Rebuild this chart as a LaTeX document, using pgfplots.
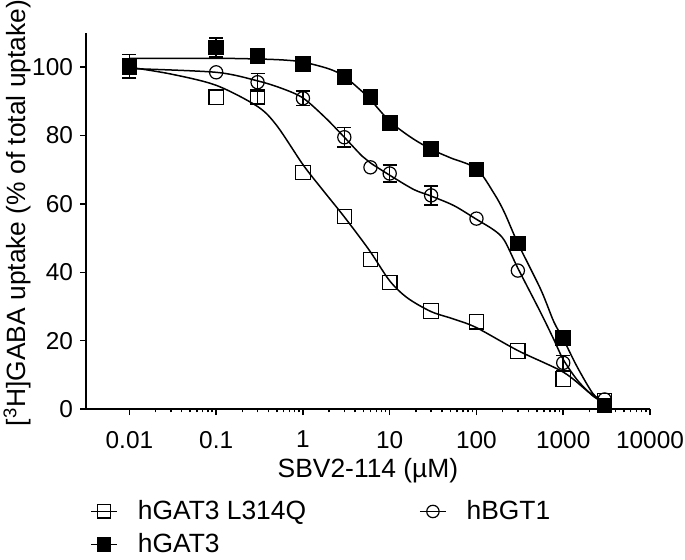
\documentclass[border=0pt]{standalone}
\usepackage{fontspec}
\setmainfont{Liberation Sans}
\usepackage{pgfplots}
\pgfplotsset{compat=1.18}

\begin{document}
\begin{tikzpicture}
\begin{axis}[
  name=ax,
  xmode=log,
  scale only axis,
  width=282pt, height=188pt,
  xmin=0.00316, xmax=10000,
  ymin=0, ymax=110,
  axis lines=left,
  axis line style={-, line width=1pt},
  tick align=outside,
  tick style={black, line width=0.75pt},
  major tick length=3pt,
  minor tick length=1.7pt,
  ytick={0,20,...,100},
  xtick={0.01,0.1,1,10,100,1000,10000},
  xticklabels={0.01,0.1,1,10,100,1000,10000},
  /pgf/number format/assume math mode=true,
  ticklabel style={font=\fontsize{12.2}{14}\selectfont},
  xticklabel style={yshift=-4.5pt},
  label style={font=\fontsize{13.2}{15}\selectfont},
  xlabel={SBV2-114 (µM)},
  ylabel={[\textsuperscript{3}H]GABA uptake (\% of total uptake)},
  xlabel style={at={(axis description cs:0.5,0)}, anchor=center, yshift=-31pt},
  ylabel style={at={(axis description cs:0,0.5)}, anchor=center, xshift=4pt, yshift=34.5pt},
  legend columns=2,
  legend cell align=left,
  legend image code/.code={\draw[mark repeat=2,mark phase=2,#1] plot coordinates {(0pt,0pt)(6.5pt,0pt)(13pt,0pt)};},
  legend style={draw=none, fill=none, inner sep=0pt,
    at={(axis description cs:0,0)}, anchor=north west, xshift=2pt, yshift=-43.5pt,
    font=\fontsize{13.2}{15}\selectfont,
    /tikz/every odd column/.append style={column sep=8pt},
    /tikz/every even column/.append style={column sep=54.5pt},
    row sep=1.5pt},
]

% fitted curves
\addplot[black, line width=0.75pt, smooth, forget plot] coordinates {
(0.01,100) (0.03,98) (0.1,94.7) (0.3,88.5) (0.5,82.9) (1,71.5) (1.64,64.5)
(3,56.2) (5.8,46.5) (10,37.5) (16,32.5) (30,28.5) (55,26.3) (100,23.8)
(300,17.1) (1000,10.8) (2000,4.8) (3000,2)};
\addplot[black, line width=0.75pt, smooth, forget plot] coordinates {
(0.01,99.6) (0.1,98.5) (0.3,96) (0.57,93.8) (1,91) (1.8,85.3) (3,79.5)
(4.8,74) (6,72) (10,68.4) (19,64.2) (30,62.3) (55,59.5) (100,55.5)
(160,52.3) (210,49.3) (300,41.2) (550,28.2) (780,20.3) (1000,14.5)
(1450,8.5) (2200,3.8) (3000,1.8)};
\addplot[black, line width=0.75pt, smooth, forget plot] coordinates {
(0.01,102.6) (0.1,102.6) (0.3,102.4) (0.6,102.1) (1,101.5) (2,99.5)
(3,97.3) (5,92.5) (6,90.5) (10,84.2) (17.5,79.5) (30,76) (50,73.5)
(100,70.3) (160,63) (210,57.5) (300,48.5) (550,35) (780,25.5)
(1000,20.5) (1450,12.3) (2200,4.5) (3000,1.5)};

% error bars
\addplot[draw=none, forget plot,
  error bars/.cd, y dir=both, y explicit,
  error bar style={draw=black, line width=0.75pt},
  error mark options={rotate=90, mark size=3.5pt, line width=0.75pt}]
  coordinates {(0.3,91.2) +- (0,2)};
\addplot[draw=none, forget plot,
  error bars/.cd, y dir=both, y explicit,
  error bar style={draw=black, line width=0.75pt},
  error mark options={rotate=90, mark size=3.5pt, line width=0.75pt}]
  coordinates {(0.3,95.6) +- (0,2.6) (1,90.9) +- (0,2.1) (3,79.5) +- (0,2.9)
  (10,68.9) +- (0,2.5) (30,62.5) +- (0,2.8) (1000,13.5) +- (0,2.2)};
\addplot[draw=none, forget plot,
  error bars/.cd, y dir=both, y explicit,
  error bar style={draw=black, line width=0.75pt},
  error mark options={rotate=90, mark size=3.5pt, line width=0.75pt}]
  coordinates {(0.01,100.3) +- (0,3.4) (0.1,105.8) +- (0,2.8)};

% markers
\addplot[only marks, forget plot, mark=square, mark size=3.6pt,
  mark options={black, line width=0.6pt}] coordinates {
(0.01,100) (0.1,91.2) (0.3,91.2) (1,69.2) (3,56.3) (6,43.7) (10,37)
(30,28.7) (100,25.5) (300,17) (1000,8.8) (3000,2.5)};
\addplot[only marks, forget plot, mark=o, mark size=3.3pt,
  mark options={black, line width=0.6pt}] coordinates {
(0.01,100) (0.1,98.5) (0.3,95.6) (1,90.9) (3,79.5) (6,70.7) (10,68.9)
(30,62.5) (100,55.7) (300,40.5) (1000,13.5) (3000,2.8)};
\addplot[only marks, forget plot, mark=square*, mark size=3.6pt,
  mark options={black, fill=black, line width=0.6pt}] coordinates {
(0.01,100.3) (0.1,105.8) (0.3,103.2) (1,100.9) (3,97.1) (6,91.2) (10,83.6)
(30,76) (100,70.1) (300,48.4) (1000,20.8) (3000,1)};

\addlegendimage{black, line width=0.75pt, mark=square, mark size=3.3pt, mark options={line width=0.6pt}}
\addlegendentry{hGAT3 L314Q}
\addlegendimage{black, line width=0.75pt, mark=o, mark size=3.1pt, mark options={line width=0.6pt}}
\addlegendentry{hBGT1}
\addlegendimage{black, line width=0.75pt, mark=square*, mark size=3.3pt, mark options={fill=black, line width=0.6pt}}
\addlegendentry{hGAT3}
\end{axis}
\pgfresetboundingbox
\useasboundingbox ([xshift=-43pt,yshift=-75pt]ax.south west) rectangle ([xshift=17.5pt,yshift=16.5pt]ax.north east);
\end{tikzpicture}
\end{document}
